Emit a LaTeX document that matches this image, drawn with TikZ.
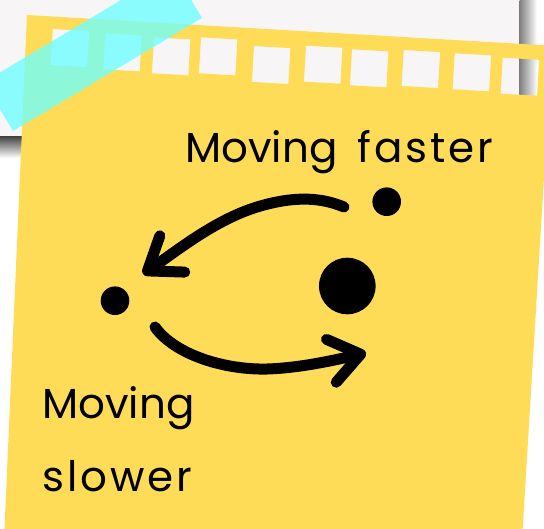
\documentclass[tikz,border=0pt]{standalone}
\usepackage{fontspec}
\setmainfont{Poppins}
\usetikzlibrary{arrows.meta}
\definecolor{notey}{RGB}{255,220,88}
\definecolor{paperg}{RGB}{247,245,246}
\definecolor{tapec}{RGB}{109,255,255}
\newcommand{\widelc}[1]{{\addfontfeature{LetterSpace=7}#1}}
\tikzset{
  dot/.style={circle, fill=black, inner sep=0pt},
  brush/.style={line width=11pt, line cap=round, -{Straight Barb[length=30pt, width=44pt, round]}},
  hand/.style={font=\fontsize{42}{73}\selectfont, inner sep=0pt, text=black}
}
\begin{document}
\begin{tikzpicture}[x=1pt,y=-1pt]
\useasboundingbox (0,0) rectangle (544,528);
\clip (0,0) rectangle (544,528);
\fill[white] (0,0) rectangle (544,528);
% paper behind
\fill[paperg] (-5,-5) rectangle (519.5,136);
\shade[top color=black!75, bottom color=white] (-5,136) rectangle (519.5,158);
\shade[left color=black!50, right color=white] (519.5,-5) rectangle (537,136);
% sticky note with perforation holes
\fill[notey, even odd rule]
  (27,15) -- (552,45.7) -- (522,540) -- (4,540) -- cycle
  (52.7,29) -- ++(36.44,2.1) -- ++(-2.07,35.94) -- ++(-36.44,-2.1) -- cycle
  (105.3,33.3) -- ++(36.44,2.1) -- ++(-2.07,35.94) -- ++(-36.44,-2.1) -- cycle
  (154,37.3) -- ++(36.44,2.1) -- ++(-2.07,35.94) -- ++(-36.44,-2.1) -- cycle
  (201,37.3) -- ++(36.44,2.1) -- ++(-2.07,35.94) -- ++(-36.44,-2.1) -- cycle
  (254,46) -- ++(36.44,2.1) -- ++(-2.07,35.94) -- ++(-36.44,-2.1) -- cycle
  (306,45.7) -- ++(36.44,2.1) -- ++(-2.07,35.94) -- ++(-36.44,-2.1) -- cycle
  (352,49.3) -- ++(36.44,2.1) -- ++(-2.07,35.94) -- ++(-36.44,-2.1) -- cycle
  (403.7,50) -- ++(36.44,2.1) -- ++(-2.07,35.94) -- ++(-36.44,-2.1) -- cycle
  (454.7,53.3) -- ++(36.44,2.1) -- ++(-2.07,35.94) -- ++(-36.44,-2.1) -- cycle
  (502.7,57.7) -- ++(36.44,2.1) -- ++(-2.07,35.94) -- ++(-36.44,-2.1) -- cycle;
% tape
\fill[tapec, fill opacity=0.78] (13,131) -- (202,18) -- (172.8,-30.9) -- (-16.2,82.1) -- cycle;
% dots
\node[dot, minimum size=28.6pt] (fast) at (386.7,201.7) {};
\node[dot, minimum size=56.6pt] (star) at (347.3,286) {};
\node[dot, minimum size=28.6pt] (slow) at (115,300.7) {};
% labels
\node[hand, anchor=base west] (lblfast) at (185,162) {Moving\hspace{20pt}\widelc{faster}};
\node[hand, anchor=base west, align=left] (lblslow) at (42,491.5) {Moving\\\widelc{slower}};
% arrows
\coordinate (t1) at (344,207);
\coordinate (t2) at (257,207);
\coordinate (t3) at (143,274);
\coordinate (b1) at (155,327);
\coordinate (b2) at (267,369);
\coordinate (b3) at (366,353);
\draw[brush] (t1) .. controls (318,196) and (290,197) .. (t2) .. controls (215,220) and (178,250) .. (t3);
\draw[brush] (b1) .. controls (175,355) and (225,370) .. (b2) .. controls (300,368) and (335,360) .. (b3);
\end{tikzpicture}
\end{document}
